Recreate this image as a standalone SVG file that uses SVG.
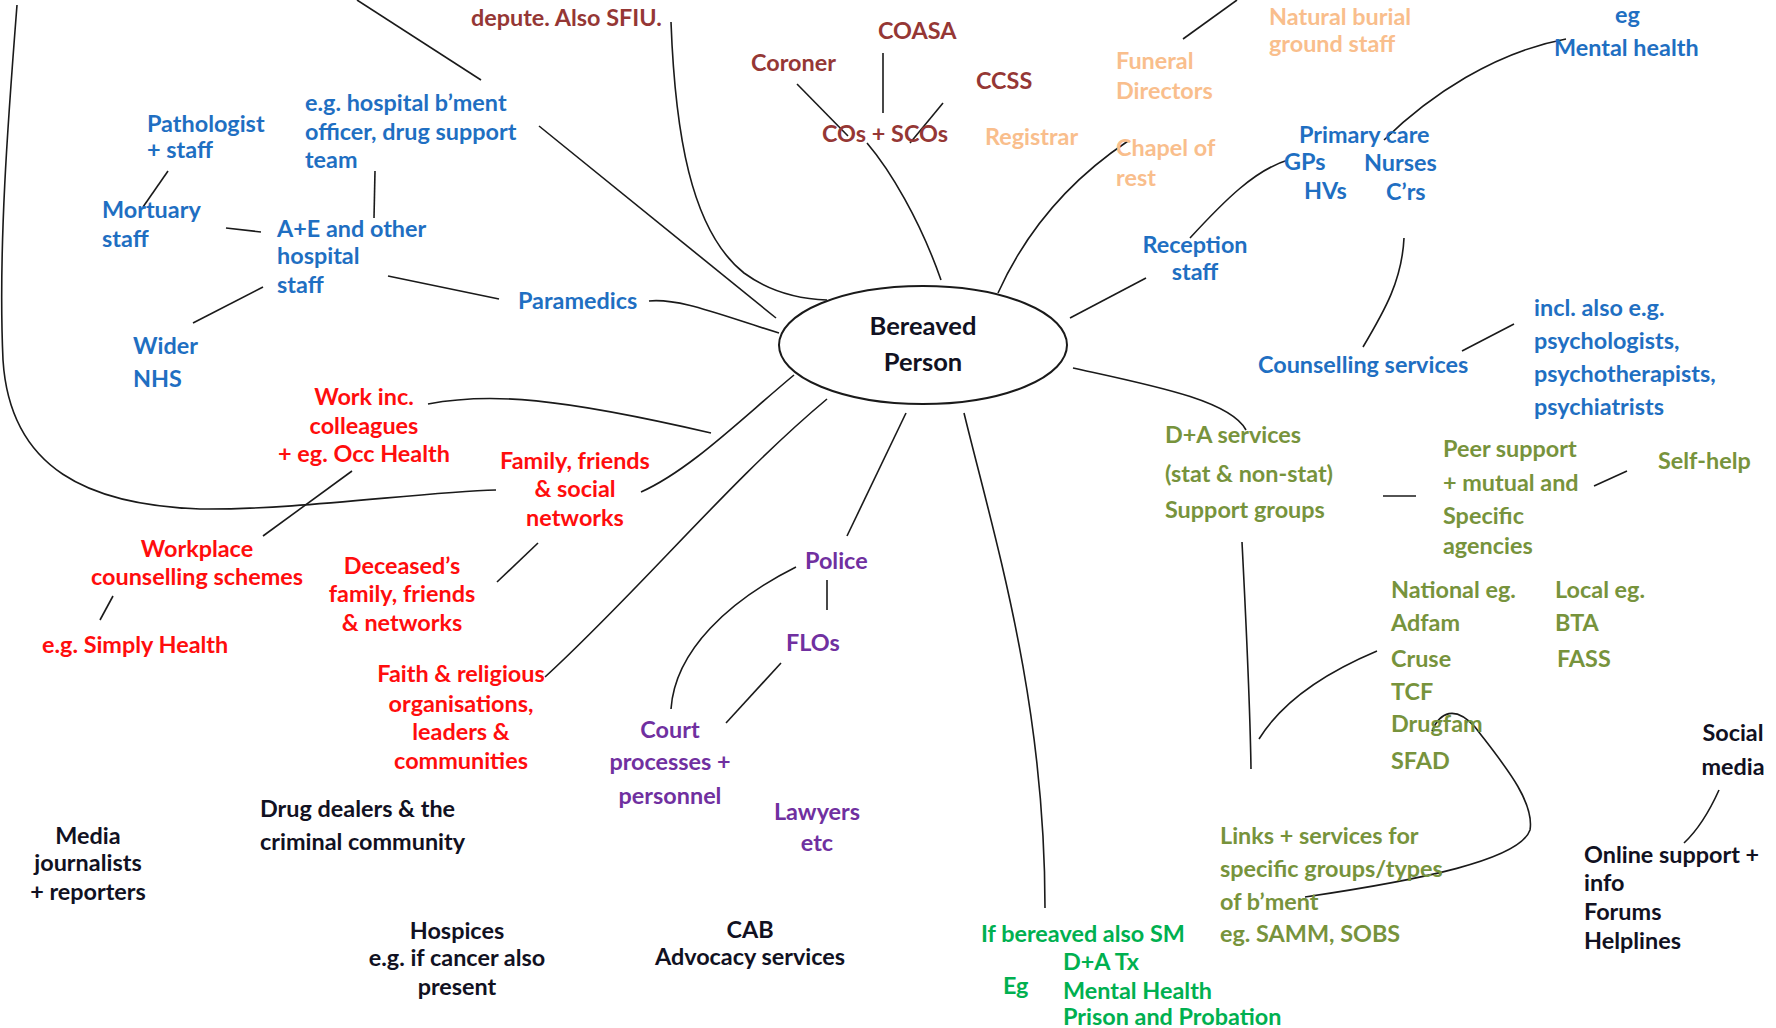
<svg xmlns="http://www.w3.org/2000/svg" width="1776" height="1028" viewBox="0 0 1776 1028">
<style>
text{font-family:Lato,"Open Sans","Liberation Sans",sans-serif;font-weight:bold;font-size:23.4px}
.bl{fill:#1F6FC2}.mr{fill:#953735}.or{fill:#F9BE8C}.bk{fill:#111122}.rd{fill:#FF0D0D}.pu{fill:#7030A0}.ol{fill:#77933C}.gr{fill:#00B050}
.m{text-anchor:middle}
.big{font-size:25.5px}
#connectors path{fill:none;stroke:#1a1a1a;stroke-width:1.6}
</style>
<rect width="1776" height="1028" fill="#fff"/>
<g id="connectors">
<path d="M357,0 L481,80"/>
<path d="M17,5 C8,120 -2,250 3,360 C10,470 90,505 200,509 C300,510 420,492 496,490"/>
<path d="M168,171 L143,207"/>
<path d="M375,171 L374,218"/>
<path d="M226,228 L261,232"/>
<path d="M263,287 L193,323"/>
<path d="M388,276 L499,299"/>
<path d="M539,126 L776,318"/>
<path d="M649,301 C680,298 720,315 779,333"/>
<path d="M671,22 C675,130 690,230 744,273 C770,292 800,299 827,300"/>
<path d="M797,84 L848,136"/>
<path d="M883,53 L883,113"/>
<path d="M943,103 L910,143"/>
<path d="M867,143 C890,170 920,220 941,280"/>
<path d="M1128,141 Q1040,200 998,293"/>
<path d="M1183,39 L1237,0"/>
<path d="M1146,278 L1070,318"/>
<path d="M1190,238 C1225,200 1255,170 1288,160"/>
<path d="M1384,140 C1430,95 1495,52 1566,39"/>
<path d="M1404,238 C1402,280 1385,310 1363,347"/>
<path d="M1462,351 L1514,324"/>
<path d="M1073,368 C1150,385 1230,400 1246,430"/>
<path d="M1242,542 C1246,620 1250,700 1251,769"/>
<path d="M1259,739 C1280,705 1320,675 1377,651"/>
<path d="M1383,496 L1416,496"/>
<path d="M1594,486 L1627,471"/>
<path d="M1432,731 C1440,712 1455,705 1475,727 C1500,760 1535,800 1530,830 C1520,860 1420,880 1305,897"/>
<path d="M1719,790 C1710,810 1700,828 1684,843"/>
<path d="M964,413 C995,540 1045,700 1045,908"/>
<path d="M906,413 L847,536"/>
<path d="M827,399 C730,480 640,590 545,677"/>
<path d="M794,375 C740,420 690,470 641,492"/>
<path d="M428,404 C490,392 560,398 711,433"/>
<path d="M352,471 L263,536"/>
<path d="M113,596 L100,620"/>
<path d="M538,543 L497,582"/>
<path d="M827,580 L827,610"/>
<path d="M796,567 C730,600 675,650 671,709"/>
<path d="M781,663 L726,723"/>
</g>
<g id="bereaved">
<ellipse cx="923" cy="345" rx="144" ry="59" fill="none" stroke="#1a1a1a" stroke-width="2"/>
<text class="bk m big"><tspan x="923" y="335">Bereaved</tspan><tspan x="923" y="371">Person</tspan></text>
</g>
<g id="hosp-team"><text class="bl"><tspan x="305" y="111">e.g. hospital b’ment</tspan><tspan x="305" y="140">officer, drug support</tspan><tspan x="305" y="168">team</tspan></text></g>
<g id="pathologist"><text class="bl"><tspan x="147" y="132">Pathologist</tspan><tspan x="147" y="158">+ staff</tspan></text></g>
<g id="mortuary"><text class="bl"><tspan x="102" y="218">Mortuary</tspan><tspan x="102" y="247">staff</tspan></text></g>
<g id="ae"><text class="bl"><tspan x="277" y="237">A+E and other</tspan><tspan x="277" y="264">hospital</tspan><tspan x="277" y="293">staff</tspan></text></g>
<g id="wider"><text class="bl"><tspan x="133" y="354">Wider</tspan><tspan x="133" y="387">NHS</tspan></text></g>
<g id="paramedics"><text class="bl" x="518" y="309">Paramedics</text></g>
<g id="reception"><text class="bl m"><tspan x="1195" y="253">Reception</tspan><tspan x="1195" y="280">staff</tspan></text></g>
<g id="primary"><text class="bl"><tspan x="1299" y="143">Primary care</tspan><tspan x="1284" y="170">GPs</tspan><tspan x="1364" y="171">Nurses</tspan><tspan x="1304" y="199">HVs</tspan><tspan x="1386" y="200">C’rs</tspan></text></g>
<g id="mental"><text class="bl"><tspan x="1615" y="23">eg</tspan><tspan x="1554" y="56">Mental health</tspan></text></g>
<g id="counselling"><text class="bl" x="1258" y="373">Counselling services</text></g>
<g id="incl"><text class="bl"><tspan x="1534" y="316">incl. also e.g.</tspan><tspan x="1534" y="349">psychologists,</tspan><tspan x="1534" y="382">psychotherapists,</tspan><tspan x="1534" y="415">psychiatrists</tspan></text></g>
<g id="depute"><text class="mr" x="471" y="26">depute. Also SFIU.</text></g>
<g id="coroner"><text class="mr" x="751" y="71">Coroner</text></g>
<g id="coasa"><text class="mr" x="878" y="39">COASA</text></g>
<g id="ccss"><text class="mr" x="976" y="89">CCSS</text></g>
<g id="cos"><text class="mr" x="822" y="142">COs + SCOs</text></g>
<g id="registrar"><text class="or" x="985" y="145">Registrar</text></g>
<g id="funeral"><text class="or"><tspan x="1116" y="69">Funeral</tspan><tspan x="1116" y="99">Directors</tspan></text></g>
<g id="chapel"><text class="or"><tspan x="1116" y="156">Chapel of</tspan><tspan x="1116" y="186">rest</tspan></text></g>
<g id="natural"><text class="or"><tspan x="1269" y="25">Natural burial</tspan><tspan x="1269" y="52">ground staff</tspan></text></g>
<g id="media"><text class="bk m"><tspan x="88" y="844">Media</tspan><tspan x="88" y="871">journalists</tspan><tspan x="88" y="900">+ reporters</tspan></text></g>
<g id="dealers"><text class="bk"><tspan x="260" y="817">Drug dealers &amp; the</tspan><tspan x="260" y="850">criminal community</tspan></text></g>
<g id="hospices"><text class="bk m"><tspan x="457" y="939">Hospices</tspan><tspan x="457" y="966">e.g. if cancer also</tspan><tspan x="457" y="995">present</tspan></text></g>
<g id="cab"><text class="bk m"><tspan x="750" y="938">CAB</tspan><tspan x="750" y="965">Advocacy services</tspan></text></g>
<g id="social"><text class="bk m"><tspan x="1733" y="741">Social</tspan><tspan x="1733" y="775">media</tspan></text></g>
<g id="online"><text class="bk"><tspan x="1584" y="863">Online support +</tspan><tspan x="1584" y="891">info</tspan><tspan x="1584" y="920">Forums</tspan><tspan x="1584" y="949">Helplines</tspan></text></g>
<g id="work"><text class="rd m"><tspan x="364" y="405">Work inc.</tspan><tspan x="364" y="434">colleagues</tspan><tspan x="364" y="462">+ eg. Occ Health</tspan></text></g>
<g id="workplace"><text class="rd m"><tspan x="197" y="557">Workplace</tspan><tspan x="197" y="585">counselling schemes</tspan></text></g>
<g id="simply"><text class="rd" x="42" y="653">e.g. Simply Health</text></g>
<g id="family"><text class="rd m"><tspan x="575" y="469">Family, friends</tspan><tspan x="575" y="497">&amp; social</tspan><tspan x="575" y="526">networks</tspan></text></g>
<g id="deceased"><text class="rd m"><tspan x="402" y="574">Deceased’s</tspan><tspan x="402" y="602">family, friends</tspan><tspan x="402" y="631">&amp; networks</tspan></text></g>
<g id="faith"><text class="rd m"><tspan x="461" y="682">Faith &amp; religious</tspan><tspan x="461" y="712">organisations,</tspan><tspan x="461" y="740">leaders &amp;</tspan><tspan x="461" y="769">communities</tspan></text></g>
<g id="police"><text class="pu" x="805" y="569">Police</text></g>
<g id="flos"><text class="pu" x="786" y="651">FLOs</text></g>
<g id="court"><text class="pu m"><tspan x="670" y="738">Court</tspan><tspan x="670" y="770">processes +</tspan><tspan x="670" y="804">personnel</tspan></text></g>
<g id="lawyers"><text class="pu m"><tspan x="817" y="820">Lawyers</tspan><tspan x="817" y="851">etc</tspan></text></g>
<g id="da"><text class="ol"><tspan x="1165" y="443">D+A services</tspan><tspan x="1165" y="482">(stat &amp; non-stat)</tspan><tspan x="1165" y="518">Support groups</tspan></text></g>
<g id="peer"><text class="ol"><tspan x="1443" y="457">Peer support</tspan><tspan x="1443" y="491">+ mutual and</tspan><tspan x="1443" y="524">Specific</tspan><tspan x="1443" y="554">agencies</tspan></text></g>
<g id="selfhelp"><text class="ol" x="1658" y="469">Self-help</text></g>
<g id="national"><text class="ol"><tspan x="1391" y="598">National eg.</tspan><tspan x="1391" y="631">Adfam</tspan><tspan x="1391" y="667">Cruse</tspan><tspan x="1391" y="700">TCF</tspan><tspan x="1391" y="732">Drugfam</tspan><tspan x="1391" y="769">SFAD</tspan></text></g>
<g id="local"><text class="ol"><tspan x="1555" y="598">Local eg.</tspan><tspan x="1555" y="631">BTA</tspan><tspan x="1557" y="667">FASS</tspan></text></g>
<g id="links"><text class="ol"><tspan x="1220" y="844">Links + services for</tspan><tspan x="1220" y="877">specific groups/types</tspan><tspan x="1220" y="910">of b’ment</tspan><tspan x="1220" y="942">eg. SAMM, SOBS</tspan></text></g>
<g id="ifbereaved"><text class="gr"><tspan x="981" y="942">If bereaved also SM</tspan><tspan x="1063" y="970">D+A Tx</tspan><tspan x="1003" y="994">Eg</tspan><tspan x="1063" y="999">Mental Health</tspan><tspan x="1063" y="1025">Prison and Probation</tspan></text></g>
</svg>
